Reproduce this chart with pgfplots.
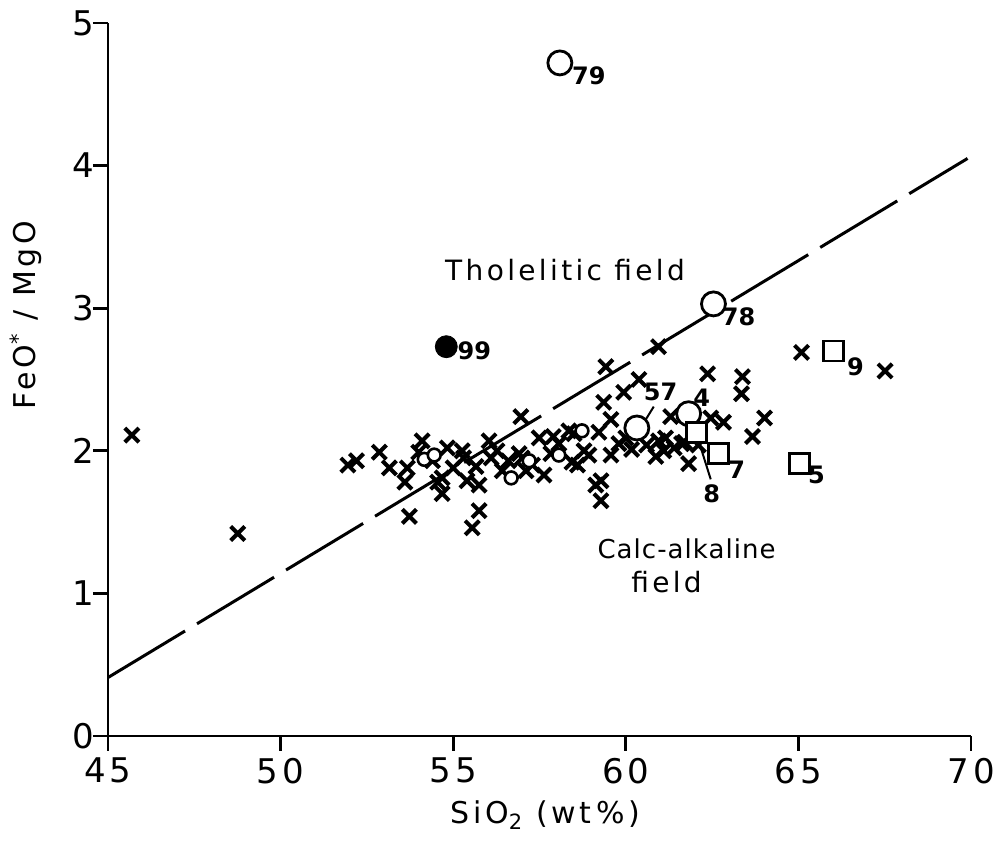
\documentclass[border=0pt]{standalone}
\usepackage{fontspec}
\setmainfont{DejaVu Sans}
\newfontfamily\spaced[LetterSpace=12]{DejaVu Sans}
\newfontfamily\tight[LetterSpace=4]{DejaVu Sans}
\usepackage{pgfplots}
\pgfplotsset{compat=1.18}

% crosses: other samples
\pgfplotstableread{
x y
45.69 2.11
48.76 1.42
51.95 1.90
52.20 1.93
52.86 1.99
53.15 1.88
53.67 1.88
53.60 1.78
53.73 1.54
54.10 2.07
54.00 1.99
54.68 1.81
54.68 1.70
54.83 2.02
55.26 2.00
55.40 1.79
55.55 1.46
55.75 1.58
55.66 1.89
55.75 1.76
56.04 2.07
56.27 2.00
56.96 2.24
56.42 1.86
56.91 1.98
57.11 1.86
57.49 2.09
57.63 1.83
57.83 1.98
58.06 2.05
58.44 1.92
58.35 2.14
59.22 2.13
58.79 2.00
58.93 1.97
59.57 1.97
59.57 2.22
59.36 2.34
59.13 1.76
59.28 1.65
59.42 2.59
59.94 2.41
60.38 2.50
60.00 2.09
60.17 2.01
60.95 2.73
60.95 2.07
61.15 2.09
61.62 2.05
60.87 1.96
61.82 1.91
61.30 2.24
62.37 2.54
62.46 2.23
62.83 2.20
63.38 2.52
63.35 2.40
64.02 2.23
63.67 2.10
65.09 2.69
67.51 2.56
59.28 1.79
54.40 1.93
55.00 1.88
55.30 1.95
56.60 1.93
57.30 1.90
57.00 1.95
58.60 1.90
61.40 2.02
61.10 2.00
60.60 2.04
54.55 1.78
56.10 1.95
57.90 2.10
58.50 2.12
59.80 2.05
61.70 2.06
62.10 2.04
}\crosses

\pgfplotstableread{
x y
54.16 1.94
54.45 1.97
56.68 1.81
58.06 1.97
58.73 2.14
57.20 1.93
}\smallcircles

\pgfplotstableread{
x y
58.09 4.72
62.54 3.03
60.32 2.16
61.82 2.26
}\bigcircles

\pgfplotstableread{
x y
62.05 2.13
62.69 1.98
65.03 1.91
66.01 2.70
}\squares

\begin{document}
\begin{tikzpicture}
\begin{axis}[
  at={(0,0)}, anchor=south west,
  scale only axis, width=431.5pt, height=356.5pt,
  xmin=45, xmax=70, ymin=0, ymax=5,
  axis lines=left,
  axis line style={line width=1.4pt, -},
  xtick={45,50,...,70}, ytick={0,1,...,5},
  tick align=outside, major tick length=7.5pt,
  tick style={line width=1.4pt, black},
  ticklabel style={font=\fontsize{17}{20}\selectfont\spaced},
  yticklabel style={xshift=4pt},
  /pgf/number format/assume math mode=true,
  xlabel={SiO\textsubscript{2} (wt\,\%)},
  xlabel style={at={(axis description cs:0.507,-0.111)}, anchor=center,
    font=\fontsize{15}{18}\selectfont\spaced},
  ylabel={FeO\textsuperscript{*} / MgO},
  ylabel style={at={(axis description cs:-0.095,0.59)}, anchor=center,
    font=\fontsize{15}{18}\selectfont\spaced},
  clip=false,
]
\addplot[line width=1.5pt, dash pattern=on 45pt off 7pt] coordinates {(45,0.41) (69.9,4.05)};

\addplot[only marks, mark=x, mark size=5pt, mark options={line width=2pt}] table {\crosses};
\addplot[only marks, mark=*, mark size=3.2pt, mark options={fill=white, draw=black, line width=1.3pt}] table {\smallcircles};
\addplot[only marks, mark=*, mark size=6pt, mark options={fill=white, draw=black, line width=1.4pt}] table {\bigcircles};
\addplot[only marks, mark=square*, mark size=5pt, mark options={fill=white, draw=black, line width=1.4pt}] table {\squares};
\addplot[only marks, mark=*, mark size=5.5pt, black] coordinates {(54.80,2.73)};

\draw[line width=1pt] (axis cs:60.58,2.22) -- (axis cs:60.81,2.31);
\draw[line width=1pt] (axis cs:62.11,2.07) -- (axis cs:62.46,1.80);

\begin{scope}[every node/.style={font=\fontsize{12}{14}\selectfont\bfseries}]
\node at (axis cs:58.93,4.63) {79};
\node at (axis cs:63.27,2.94) {78};
\node at (axis cs:55.61,2.70) {99};
\node at (axis cs:61.01,2.41) {57};
\node at (axis cs:62.20,2.37) {4};
\node at (axis cs:62.49,1.70) {8};
\node at (axis cs:63.21,1.87) {7};
\node at (axis cs:65.52,1.83) {5};
\node at (axis cs:66.65,2.59) {9};
\end{scope}

\node[font=\fontsize{14}{16}\selectfont\spaced] at (axis cs:58.24,3.27) {Tholelitic field};
\node[font=\fontsize{13}{16}\selectfont\tight] at (axis cs:61.76,1.31) {Calc-alkaline};
\node[font=\fontsize{14}{16}\selectfont\spaced] at (axis cs:61.18,1.08) {field};
\end{axis}
\path (-54pt,-56.5pt) rectangle (449pt,368pt);
\end{tikzpicture}
\end{document}
